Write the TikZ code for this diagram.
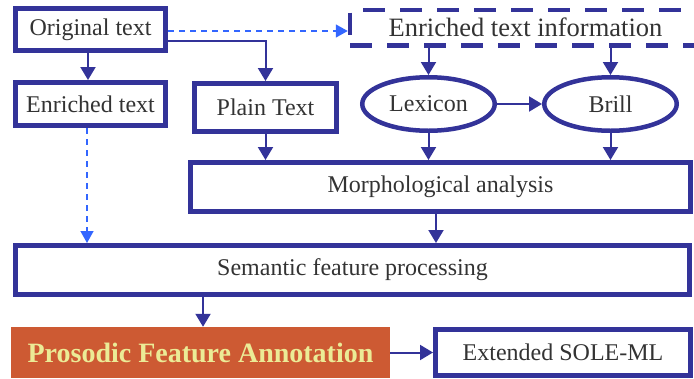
\documentclass[tikz,border=0pt]{standalone}
\usepackage{fontspec}
\setmainfont{Liberation Serif}
\usetikzlibrary{arrows.meta,shapes.geometric}
\definecolor{navy}{HTML}{333399}
\definecolor{linkblue}{HTML}{3366FF}
\definecolor{txtgray}{HTML}{333333}
\definecolor{brick}{HTML}{CD5A33}
\definecolor{paleyellow}{HTML}{EBEB96}
\begin{document}
\begin{tikzpicture}[x=1pt,y=-1pt,
  box/.style={draw=navy,line width=5pt,inner sep=0pt,text=txtgray,font=\fontsize{24}{28}\selectfont},
  ovalnode/.style={ellipse,draw=navy,line width=4.5pt,inner sep=0pt,text=txtgray,font=\fontsize{24}{28}\selectfont,minimum width=132.5pt,minimum height=53.5pt},
  arr/.style={navy,line width=2pt,-{Triangle[length=13pt,width=15pt]}},
  dasharr/.style={linkblue,line width=1.5pt,dash pattern=on 6pt off 5pt,-{Triangle[length=12pt,width=13pt]}}]
  \useasboundingbox (0,0) rectangle (694,378);
  % top row
  \node[box,minimum width=150pt,minimum height=42pt] (orig) at (90.5,29.5) {Original text};
  \node[box,minimum width=150pt,minimum height=43pt] (enr) at (90.5,104) {Enriched text};
  \node[box,minimum width=142pt,minimum height=48pt] (plain) at (265.5,107.5) {Plain Text};
  \node[box,line width=4.5pt,dash pattern=on 22pt off 15pt,minimum width=351pt,minimum height=35.5pt,font=\fontsize{26.5}{30}\selectfont] (info) at (525.5,27.75) {Enriched text information};
  \node[ovalnode] (lex) at (428.5,104) {Lexicon};
  \node[ovalnode] (brill) at (610.5,104) {Brill};
  % lower boxes
  \node[box,minimum width=500pt,minimum height=49pt] (morph) at (440.5,187) {Morphological analysis};
  \node[box,minimum width=674pt,minimum height=49pt] (sem) at (352.5,270) {Semantic feature processing};
  \node[fill=brick,inner sep=0pt,minimum width=379pt,minimum height=51pt,text=paleyellow,font=\fontsize{28}{32}\selectfont\bfseries] (pros) at (200.5,352.5) {Prosodic Feature Annotation};
  \node[box,minimum width=255pt,minimum height=46pt] (ext) at (563,352.5) {Extended SOLE-ML};
  % connectors
  \draw[arr] ([xshift=-2.5pt]orig.south) -- ([xshift=-2.5pt]enr.north);
  \draw[arr] ([yshift=-11.5pt]orig.east) -| (plain.north);
  \draw[dasharr] ([yshift=-1.5pt]orig.east) -- ([yshift=-1.5pt]orig.east -| info.west);
  \draw[dasharr] ([xshift=-3.5pt]enr.south) -- ([xshift=-3.5pt]enr.south |- sem.north);
  \draw[arr] (lex.north |- info.south) -- (lex.north);
  \draw[arr] (brill.north |- info.south) -- (brill.north);
  \draw[arr] (lex.east) -- (brill.west);
  \foreach \src in {plain,lex,brill}{
    \draw[arr] (\src.south) -- (\src.south |- morph.north);
  }
  \draw[arr] ([xshift=-4.5pt]morph.south) -- ([xshift=-4.5pt]morph.south |- sem.north);
  \draw[arr] ([xshift=2.5pt]sem.south -| pros.north) -- ([xshift=2.5pt]pros.north);
  \draw[arr] (pros.east) -- (ext.west);
\end{tikzpicture}
\end{document}
